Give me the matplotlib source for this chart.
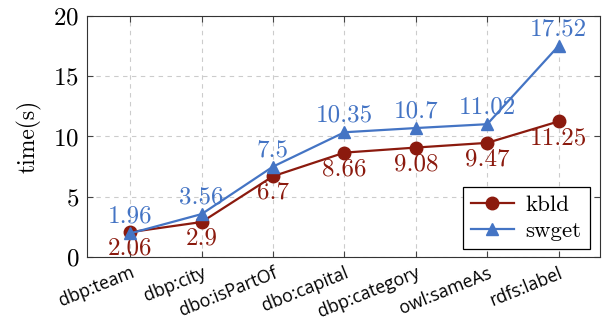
import numpy as np
import matplotlib
matplotlib.use("Agg")
import matplotlib.pyplot as plt
from matplotlib.transforms import ScaledTranslation

# data
categories = ["dbp:team", "dbp:city", "dbo:isPartOf", "dbo:capital",
              "dbp:category", "owl:sameAs", "rdfs:label"]
kbld = [2.06, 2.9, 6.7, 8.66, 9.08, 9.47, 11.25]
swget = [1.96, 3.56, 7.5, 10.35, 10.7, 11.02, 17.52]

red = "#8b1a0e"
blue = "#4474c4"

plt.rcParams["font.family"] = "serif"
plt.rcParams["font.serif"] = ["cmr10"]
plt.rcParams["mathtext.fontset"] = "cm"
plt.rcParams["axes.formatter.use_mathtext"] = True

fig, ax = plt.subplots(figsize=(6.03, 3.2), dpi=100)
fig.subplots_adjust(left=0.145, right=0.995, top=0.95, bottom=0.197)

x = np.arange(len(categories))
ax.plot(x, kbld, color=red, marker="o", markersize=9, lw=1.6, label="kbld", zorder=3)
ax.plot(x, swget, color=blue, marker="^", markersize=9, lw=1.6, label="swget", zorder=4)

for xi, v in zip(x, kbld):
    ax.annotate(f"{v:g}", (xi, v), xytext=(0, -4), textcoords="offset points",
                ha="center", va="top", color=red, fontsize=18)
for xi, v in zip(x, swget):
    ax.annotate(f"{v:g}", (xi, v), xytext=(0, 4), textcoords="offset points",
                ha="center", va="bottom", color=blue, fontsize=18)

ax.set_xlim(-0.6, 6.58)
ax.set_ylim(0, 20)
ax.set_yticks([0, 5, 10, 15, 20])
ax.set_xticks(x)
ax.set_xticklabels(categories, rotation=22, ha="right", rotation_mode="anchor",
                   fontsize=12.8, family="Open Sans")
shift = ScaledTranslation(6 / 100, 0, fig.dpi_scale_trans)
for lab in ax.get_xticklabels():
    lab.set_transform(lab.get_transform() + shift)
ax.tick_params(axis="y", labelsize=18, pad=6)
ax.tick_params(direction="in", top=True, right=True, length=4, color="#444444")
ax.tick_params(axis="x", pad=5)
ax.set_ylabel("time(s)", fontsize=17, labelpad=8)
ax.grid(True, ls=(0, (4, 4)), color="#cccccc", lw=0.8)
ax.set_axisbelow(True)
for s in ax.spines.values():
    s.set_color("#333333")

leg = ax.legend(loc="lower right", fontsize=16.5, fancybox=False, edgecolor="black",
                framealpha=1, borderpad=0.35, handlelength=1.9, labelspacing=0.25,
                handletextpad=0.5, borderaxespad=0, bbox_to_anchor=(0.98, 0.033))
leg.get_frame().set_linewidth(0.9)

fig.savefig("out.png", dpi=100)
